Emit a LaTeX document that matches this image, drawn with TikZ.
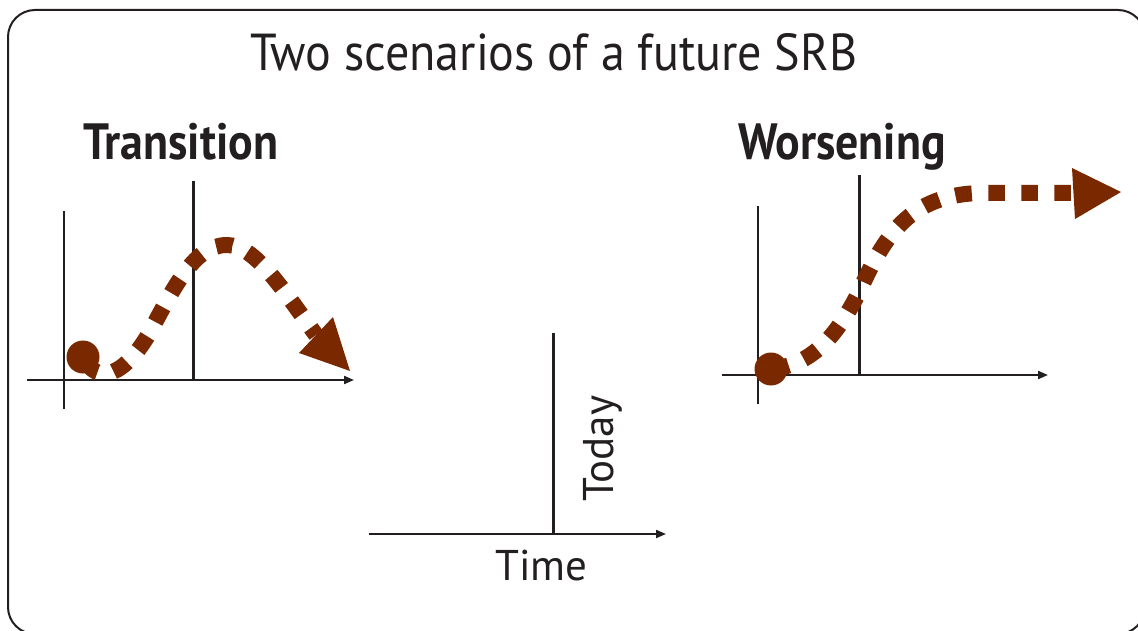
\documentclass[tikz,border=0pt]{standalone}
\usepackage{fontspec}
\setmainfont{PT Sans}
\usetikzlibrary{arrows.meta}
\definecolor{ink}{RGB}{35,31,32}
\definecolor{rust}{RGB}{122,40,0}
\tikzset{
  axis/.style={draw=ink, line width=2pt},
  axisarrow/.style={axis, -{Triangle[length=10pt,width=8pt]}},
  todayline/.style={draw=ink, line width=3pt},
  trend/.style={draw=rust, line width=16pt, dash pattern=on 16.5pt off 16.5pt},
  dot/.style={circle, fill=rust, inner sep=0pt, minimum size=33pt},
  head/.style={fill=rust},
  titletext/.style={font=\fontsize{52}{60}\selectfont, text=ink, inner sep=0pt, xscale=0.925},
  headtext/.style={font=\fontsize{51}{60}\selectfont\bfseries, text=ink, inner sep=0pt, xscale=0.9},
  labeltext/.style={font=\fontsize{43}{50}\selectfont, text=ink, inner sep=0pt}
}
\begin{document}
\begin{tikzpicture}[x=1pt,y=-1pt]
\useasboundingbox (0,0) rectangle (1138,631);
\begin{scope}
\clip (0,0) rectangle (1138,631);
\draw[ink, line width=2pt, rounded corners=27pt] (8,10) rectangle (1145,634);
\end{scope}

% title
\node[titletext, anchor=base west] (title) at (250,70.5) {Two scenarios of a future SRB};
\node[headtext, anchor=base west] (trans) at (83,160) {Transition};
\node[headtext, anchor=base west] (worse) at (738,160) {Worsening};

% left graph
\coordinate (lyT) at (64,211); \coordinate (lyB) at (64,409);
\coordinate (lxL) at (27,380); \coordinate (lxR) at (354,380);
\coordinate (ltT) at (193,181); \coordinate (ltB) at (193,380);
\draw[axis] (lyT) -- (lyB);
\draw[axisarrow] (lxL) -- (lxR);
\draw[todayline] (ltT) -- (ltB);
\coordinate (lstart) at (83,357);
\coordinate (lend) at (316,335);
\draw[trend, dash phase=28pt] (lstart) .. controls (98,387) and (125,375) .. (150,332)
  .. controls (175,285) and (195,245) .. (227,245)
  .. controls (255,245) and (283,290) .. (lend);
\node[dot] (ldot) at (lstart) {};
\fill[head] (333,317) -- (350,371) -- (299,353) -- cycle;

% right graph
\coordinate (ryT) at (758,206); \coordinate (ryB) at (758,404);
\coordinate (rxL) at (722,375); \coordinate (rxR) at (1048,375);
\coordinate (rtT) at (859,175); \coordinate (rtB) at (859,374);
\draw[axis] (ryT) -- (ryB);
\draw[axisarrow] (rxL) -- (rxR);
\draw[todayline] (rtT) -- (rtB);
\coordinate (rstart) at (771,369);
\coordinate (rend) at (1074,193);
\draw[trend, dash phase=31.5pt] (rstart) .. controls (810,365) and (835,340) .. (860,290)
  .. controls (885,235) and (910,195) .. (980,193) -- (rend);
\node[dot] (rdot) at (rstart) {};
\fill[head] (1072,168) -- (1121,192) -- (1075,219) -- cycle;

% legend graph
\coordinate (ctT) at (553,333); \coordinate (ctB) at (553,533);
\coordinate (cxL) at (369,534); \coordinate (cxR) at (666,534);
\draw[todayline] (ctT) -- (ctB);
\draw[axisarrow] (cxL) -- (cxR);
\node[labeltext, rotate=90, anchor=base west] (today) at (613,502) {Today};
\node[labeltext, anchor=base west] (time) at (495,580) {Time};
\end{tikzpicture}
\end{document}
